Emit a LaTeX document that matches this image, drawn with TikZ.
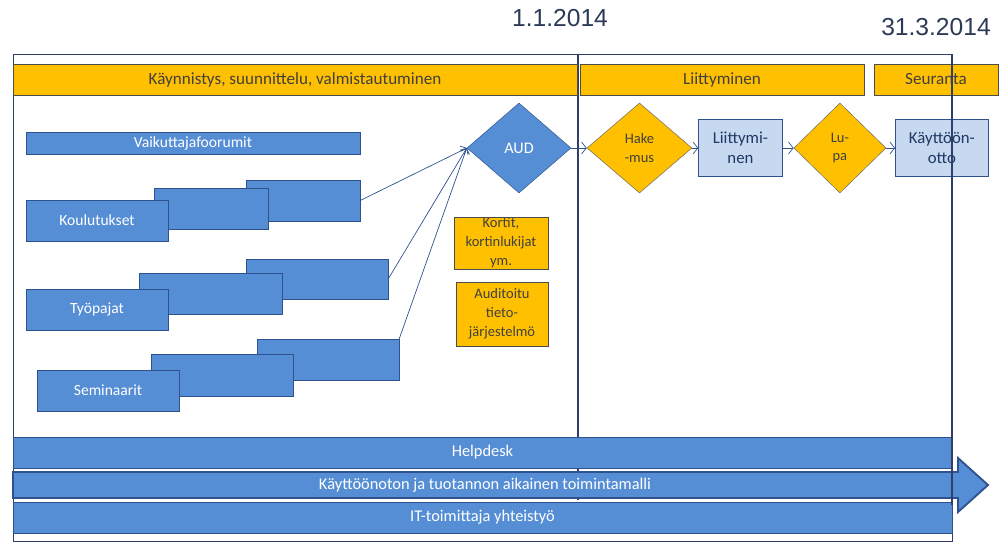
\documentclass[tikz,border=0pt]{standalone}
\usepackage{fontspec}
\setmainfont{Carlito}
\newfontfamily\datefont{Liberation Sans}
\usetikzlibrary{shapes.geometric,positioning,arrows.meta}

\definecolor{barblue}{HTML}{558ED5}
\definecolor{edgeblue}{HTML}{2F528F}
\definecolor{phaseorange}{HTML}{FFC000}
\definecolor{paleblue}{HTML}{C6D9F1}
\definecolor{framecol}{HTML}{2F3F6A}
\definecolor{textgray}{HTML}{404040}
\definecolor{navytext}{HTML}{1F3864}
\definecolor{datecol}{HTML}{2B3A57}

\tikzset{
  px size/.style 2 args={minimum width=#1*0.03cm, minimum height=#2*0.03cm},
  blue box/.style={rectangle, draw=edgeblue, fill=barblue, text=white, inner sep=0pt,
    font=\fontsize{13.3}{16}\selectfont},
  phase bar/.style={rectangle, draw=black!70, fill=phaseorange, text=textgray, inner sep=0pt,
    font=\fontsize{14.6}{17}\selectfont},
  long bar/.style={blue box, font=\fontsize{14}{17}\selectfont},
  note box/.style={rectangle, draw=black!70, fill=phaseorange, text=textgray, align=center, inner sep=0pt},
  gate/.style={diamond, draw=black!60, fill=phaseorange, text=textgray, align=center, inner sep=0pt},
  stage box/.style={rectangle, draw=edgeblue, fill=paleblue, text=navytext, align=center, inner sep=0pt,
    font=\fontsize{14.3}{17}\selectfont},
  link/.style={-{Straight Barb[length=4pt,width=8pt]}, draw=edgeblue, line width=0.6pt},
  flow/.style={-{Straight Barb[length=4pt,width=10pt]}, draw=edgeblue, line width=0.6pt}
}

\begin{document}
\begin{tikzpicture}
   [x=0.03cm, y=-0.03cm, font=\fontsize{12.4}{16.2}\selectfont]
   \useasboundingbox (0,0) rectangle (999,547);

   % dates and time frame
   \node[text=datecol, font=\datefont\fontsize{21}{24}\selectfont] (d1) at (560,18) {1.1.2014};
   \node[text=datecol, font=\datefont\fontsize{21}{24}\selectfont] (d2) at (936,27) {31.3.2014};
   \draw[framecol, line width=0.8pt] (13,54) rectangle (952,541);
   \draw[framecol, line width=1.2pt] (578,54) -- (578,500);

   % phases
   \node[phase bar, px size={564}{31}] (start) at (295,79.5) {Käynnistys, suunnittelu, valmistautuminen};
   \node[phase bar, px size={284}{31}] (join) at (722,79.5) {Liittyminen};
   \node[phase bar, px size={124}{31}] (follow) at (936,79.5) {Seuranta};

   % preparation work
   \node[blue box, px size={334}{22}] (forum) at (193,143) {Vaikuttajafoorumit};

   \node[blue box, px size={114}{41}] (kback) at (303,200.5) {};
   \node[blue box, px size={114}{41}] (kmid) at (211,208.5) {};
   \node[blue box, px size={142}{41}] (koulu) at (97,220.5) {Koulutukset};

   \node[blue box, px size={142}{40}] (tback) at (317,279) {};
   \node[blue box, px size={143}{41}] (tmid) at (210.5,293.5) {};
   \node[blue box, px size={142}{41}] (tyo) at (97,309.5) {Työpajat};

   \node[blue box, px size={142}{41}] (sback) at (328,359.5) {};
   \node[blue box, px size={142}{42}] (smid) at (222,375) {};
   \node[blue box, px size={142}{41}] (semi) at (108,390.5) {Seminaarit};

   \node[note box, px size={94}{52}] (kortit) at (501,243) {Kortit,\\kortinlukijat\\ym.};
   \node[note box, px size={92}{64}] (audit) at (502,314) {Auditoitu\\tieto-\\järjestelmö};

   % joining chain
   \node[diamond, draw=edgeblue, fill=barblue, text=white, inner sep=0pt, px size={104}{90},
     font=\fontsize{13.8}{16}\selectfont] (aud) at (519,148) {AUD};
   \node[gate, px size={105}{90}, right=0.465cm of aud] (hake) {Hake\\-mus};
   \node[stage box, px size={84}{57}, right=0.18cm of hake] (liit) {Liittymi-\\nen};
   \node[gate, px size={92}{90}, right=0.33cm of liit] (lupa) {Lu-\\pa};
   \node[stage box, px size={93}{57}, right=0.27cm of lupa] (kaytto) {Käyttöön-\\otto};

   \draw[link] (kback.east) -- (aud.west);
   \draw[link] (tback.east) -- (aud.west);
   \draw[link] (sback.north east) -- (aud.west);
   \draw[flow] (aud) -- (hake);
   \draw[flow] (hake) -- (liit);
   \draw[flow] (liit) -- (lupa);
   \draw[flow] (lupa) -- (kaytto);

   % continuous support
   \node[long bar, px size={939}{31}] (help) at (482.5,452.5) {Helpdesk};
   \node[long bar, px size={939}{31}] (itco) at (482.5,517.5) {IT-toimittaja yhteistyö};
   \draw[edgeblue, line width=1.6pt, fill=barblue]
     (13,472) -- (958,472) -- (958,458) -- (988,485) -- (958,512) -- (958,498) -- (13,498) -- cycle;
   \node[text=white, font=\fontsize{14}{17}\selectfont] (model) at (485,485)
     {Käyttöönoton ja tuotannon aikainen toimintamalli};

   \draw[framecol, line width=1.6pt] (952,54) -- (952,505);
\end{tikzpicture}
\end{document}
